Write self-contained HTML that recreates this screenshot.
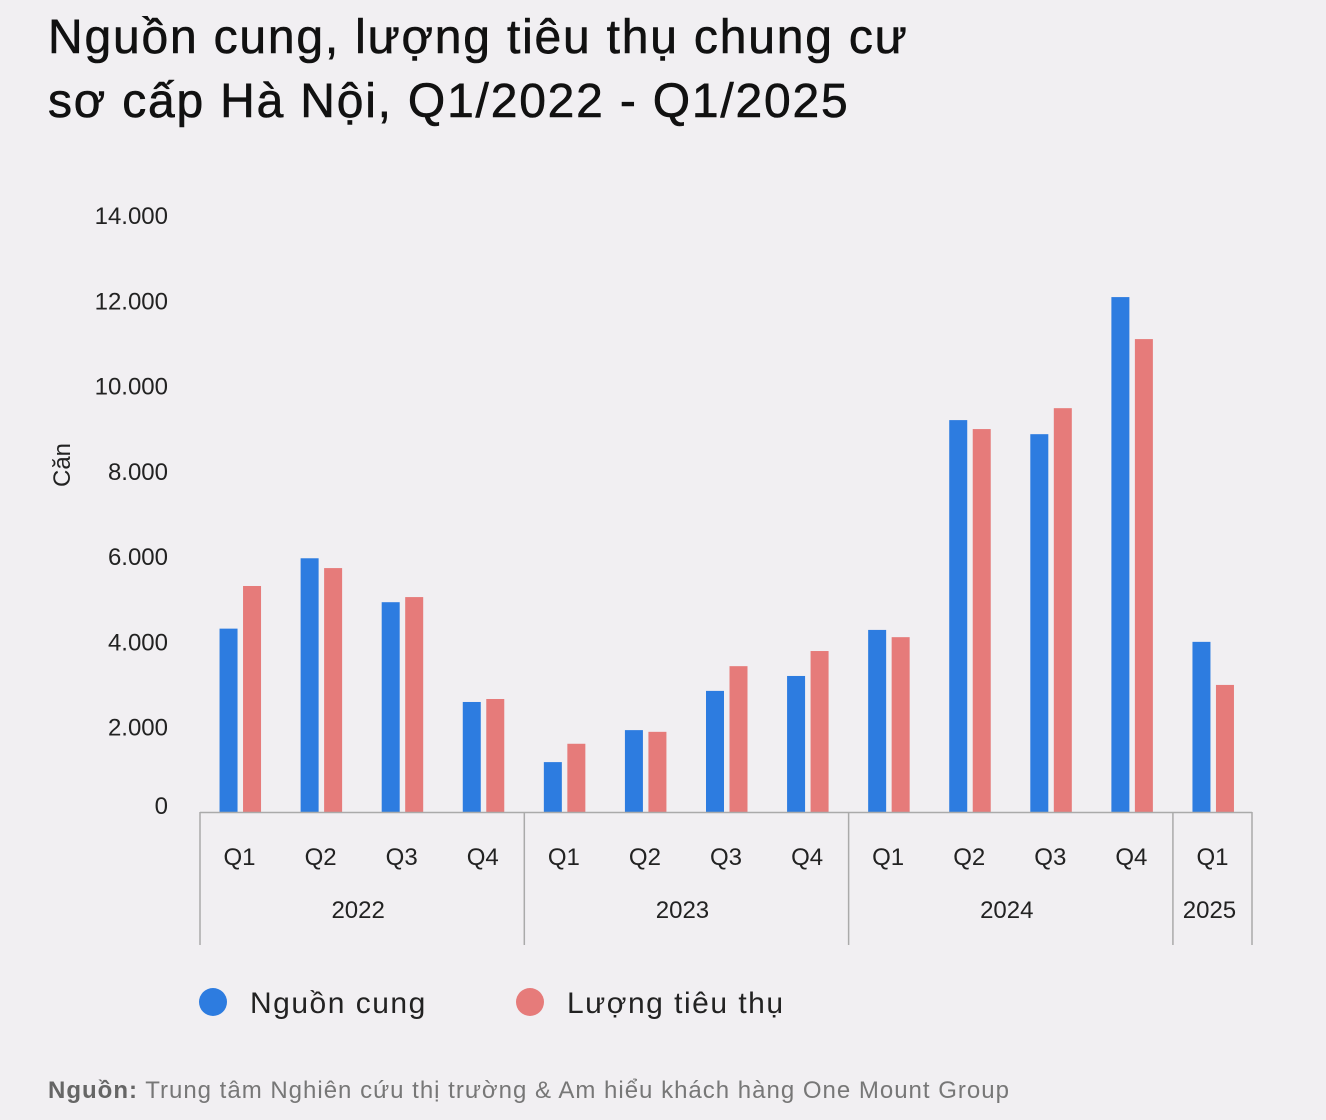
<!DOCTYPE html>
<html><head><meta charset="utf-8">
<style>
html,body{margin:0;padding:0;background:#f1eff2;}
body{width:1326px;height:1120px;position:relative;overflow:hidden;font-family:"Liberation Sans",sans-serif;color:#1a1a1a;}
.title{position:absolute;left:48px;top:6px;font-size:48px;line-height:64px;font-weight:400;color:#111;letter-spacing:1.8px;-webkit-text-stroke:0.6px #111;}
.src{position:absolute;left:48px;top:1077px;font-size:24px;color:#777;letter-spacing:1px;}
</style></head>
<body>
<div class="title">Nguồn cung, lượng tiêu thụ chung cư<br>sơ cấp Hà Nội, Q1/2022 - Q1/2025</div>
<svg id="chart" width="1326" height="1120" style="position:absolute;left:0;top:0" xmlns="http://www.w3.org/2000/svg"></svg>
<div class="src"><b style="color:#666">Nguồn:</b> Trung tâm Nghiên cứu thị trường &amp; Am hiểu khách hàng One Mount Group</div>
<script>
const categories=["Q1","Q2","Q3","Q4","Q1","Q2","Q3","Q4","Q1","Q2","Q3","Q4","Q1"];
const years=[["2022",0,4],["2023",4,8],["2024",8,12],["2025",12,13]];
const supply=[4300,5950,4920,2580,1170,1920,2840,3190,4270,9190,8860,12075,3990];
const sales=[5300,5720,5040,2650,1600,1880,3420,3775,4100,8980,9470,11090,2980];
const yTicks=[0,2000,4000,6000,8000,10000,12000,14000];
const yTickLabels=["0","2.000","4.000","6.000","8.000","10.000","12.000","14.000"];

const svg=document.getElementById('chart');
const NS="http://www.w3.org/2000/svg";
const left=200,right=1254,base=812,top0=215,yMax=14000;
const step=(right-left)/categories.length;
const y=v=>base-(v/yMax)*(base-top0);
const xc=i=>left+step*i+step/2;
function mk(t,a){const e=document.createElementNS(NS,t);for(const k in a)e.setAttribute(k,a[k]);svg.appendChild(e);return e;}

yTicks.forEach((v,i)=>{
  const t=mk('text',{x:168,y:(v===0?y(v)-7:y(v))+9,'text-anchor':'end','font-size':24,fill:'#222'});
  t.textContent=yTickLabels[i];
  
  
});
const yt=mk('text',{x:0,y:0,transform:'translate(70,465) rotate(-90)','text-anchor':'middle','font-size':24,fill:'#222'});
yt.textContent="Căn";



const bw=18;
categories.forEach((c,i)=>{
  const b=mk('rect',{x:xc(i)-21,y:y(supply[i]),width:bw,height:base-y(supply[i]),fill:'#2d7ce0'});
  
  
  const r=mk('rect',{x:xc(i)+2.5,y:y(sales[i]),width:bw,height:base-y(sales[i]),fill:'#e67b7a'});
  
  
  const t=mk('text',{x:xc(i)-1,y:865,'text-anchor':'middle','font-size':24,fill:'#222'});
  t.textContent=c;
  
  
});
const ax=mk('line',{x1:left,x2:right-2,y1:base+0.5,y2:base+0.5,stroke:'#aaa','stroke-width':1.5});


years.forEach(([yr,s,e])=>{
  const xs=left+step*s;
  const l=mk('line',{x1:xs,x2:xs,y1:base,y2:945,stroke:'#aaa','stroke-width':1.5});
  
  
  const t=mk('text',{x:(left+step*s+left+step*e)/2-4,y:918,'text-anchor':'middle','font-size':24,fill:'#222'});
  t.textContent=yr;
  
  
});
const le=mk('line',{x1:right-2,x2:right-2,y1:base,y2:945,stroke:'#aaa','stroke-width':1.5});



const lg=[["Nguồn cung","#2d7ce0",213],["Lượng tiêu thụ","#e67b7a",530]];
lg.forEach(([n,c,x])=>{
  const ci=mk('circle',{cx:x,cy:1002,r:14,fill:c});
  
  
  const t=mk('text',{x:x+37,y:1013,'font-size':30,fill:'#222','letter-spacing':1.5});
  t.textContent=n;
  
  
});
</script>
</body></html>
